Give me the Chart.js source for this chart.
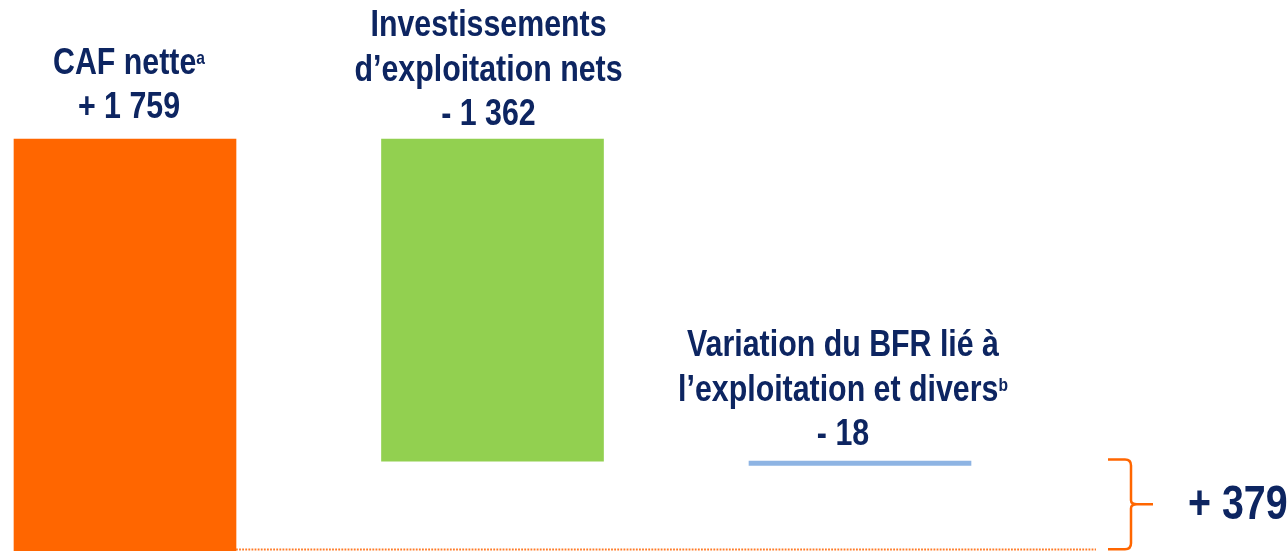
<!DOCTYPE html>
<html>
<head>
<meta charset="utf-8">
<script src="https://cdn.jsdelivr.net/npm/chart.js@4/dist/chart.umd.min.js"></script>
<style>
  html, body { margin: 0; padding: 0; background: #ffffff; }
  #wrap { position: relative; width: 1288px; height: 551px; }
  canvas { display: block; }
</style>
</head>
<body>
<div id="wrap"><canvas id="c" width="1288" height="551"></canvas></div>
<script>
// ---- Data ----
const categories = ['CAF nette', "Investissements d’exploitation nets", 'Variation du BFR lié à l’exploitation et divers'];
const values = [1759, -1362, -18];
const valueLabels = ['+ 1 759', '- 1 362', '- 18'];
const labelLines = [
  [{ t: 'CAF nette', sup: 'a' }],
  [{ t: 'Investissements' }, { t: 'd’exploitation nets' }],
  [{ t: 'Variation du BFR lié à' }, { t: 'l’exploitation et divers', sup: 'b' }]
];
const totalValue = 379;
const totalLabel = '+ 379';

// ---- Styles ----
const barColors = ['#FF6600', '#92D050', '#8EB4E3'];
const textColor = '#0D2561';
const labelDx = [4, -4, -17];
const labelGap = [21, 14, 16];
const lineH = 44.5;

// floating ranges from the running total
let run = 0;
const ranges = values.map(v => { const s = run; run += v; return [Math.min(s, run), Math.max(s, run)]; });

// font detection: use Liberation Sans Narrow if present, otherwise squeeze Liberation Sans
const probe = document.createElement('canvas').getContext('2d');
function w(f) { probe.font = f; return probe.measureText('Investissements d’exploitation 1 759').width; }
const hasNarrow = w('bold 40px "Liberation Sans Narrow", monospace') !== w('bold 40px monospace');
const FAM = hasNarrow ? '"Liberation Sans Narrow"' : '"Liberation Sans", Arial';
const SX = hasNarrow ? 1 : 0.82;

function drawText(ctx, segs, cx, baseline) {
  let total = 0;
  const parts = segs.map(s => {
    ctx.font = 'bold ' + s.size + 'px ' + FAM;
    const wd = ctx.measureText(s.t).width * SX;
    total += wd;
    return { ...s, wd };
  });
  let x = cx - total / 2;
  parts.forEach(p => {
    ctx.save();
    ctx.font = 'bold ' + p.size + 'px ' + FAM;
    ctx.translate(x, baseline - (p.rise || 0));
    ctx.scale(SX, 1);
    ctx.fillText(p.t, 0, 0);
    ctx.restore();
    x += p.wd;
  });
}

const overlay = {
  id: 'overlay',
  afterDatasetsDraw(chart) {
    const ctx = chart.ctx;
    const meta = chart.getDatasetMeta(0);
    const ys = chart.scales.y;
    const area = chart.chartArea;
    ctx.save();
    ctx.fillStyle = textColor;
    ctx.textAlign = 'left';
    ctx.textBaseline = 'alphabetic';
    meta.data.forEach((bar, i) => {
      const top = Math.min(bar.y, bar.base);
      const cx = bar.x + labelDx[i];
      const lines = labelLines[i].map(l => {
        const segs = [{ t: l.t, size: 37 }];
        if (l.sup) segs.push({ t: l.sup, size: 19, rise: 10 });
        return segs;
      });
      lines.push([{ t: valueLabels[i], size: 37 }]);
      const last = top - labelGap[i];
      lines.forEach((segs, k) => {
        drawText(ctx, segs, cx, last - (lines.length - 1 - k) * lineH);
      });
    });

    // dotted baseline
    const first = meta.data[0];
    const yb = area.bottom - 1.5;
    const yT = ys.getPixelForValue(totalValue);
    ctx.strokeStyle = '#FF7A26';
    ctx.lineWidth = 2;
    ctx.setLineDash([1.8, 1.3]);
    ctx.beginPath();
    ctx.moveTo(first.x + first.width / 2, yb);
    ctx.lineTo(1096, yb);
    ctx.stroke();
    ctx.setLineDash([]);

    // curly bracket
    const T = yT - 6, B = area.bottom - 1.7, M = (T + B) / 2;
    const x0 = 1108, xv = 1131, xt = 1153;
    ctx.strokeStyle = '#FF6600';
    ctx.lineWidth = 2.5;
    ctx.lineJoin = 'round';
    ctx.beginPath();
    ctx.moveTo(x0, T);
    ctx.lineTo(xv - 6, T);
    ctx.quadraticCurveTo(xv, T, xv, T + 6);
    ctx.lineTo(xv, M - 4);
    ctx.quadraticCurveTo(xv, M, xv + 6, M);
    ctx.lineTo(xt, M);
    ctx.moveTo(xv + 6, M);
    ctx.quadraticCurveTo(xv, M, xv, M + 4);
    ctx.lineTo(xv, B - 6);
    ctx.quadraticCurveTo(xv, B, xv - 6, B);
    ctx.lineTo(x0, B);
    ctx.stroke();

    // total label
    ctx.fillStyle = textColor;
    ctx.save();
    ctx.font = 'bold 48px ' + FAM;
    ctx.translate(xt + 35, M + 15);
    ctx.scale(SX, 1);
    ctx.fillText(totalLabel, 0, 0);
    ctx.restore();
    ctx.restore();
  }
};

const pxPerCat = 367.5;
const xMin = -125 / pxPerCat;

new Chart(document.getElementById('c'), {
  type: 'bar',
  data: {
    datasets: [{
      label: 'Flux',
      data: ranges.map((r, i) => ({ x: i, y: r })),
      backgroundColor: barColors,
      borderWidth: 0,
      barThickness: 222
    }]
  },
  options: {
    responsive: false,
    devicePixelRatio: 1,
    animation: false,
    layout: { padding: 0 },
    plugins: { legend: { display: false }, tooltip: { enabled: false } },
    scales: {
      x: { type: 'linear', offset: false, min: xMin, max: xMin + 1288 / pxPerCat, display: false },
      y: { min: 17, max: 2347, display: false }
    }
  },
  plugins: [overlay]
});
</script>
</body>
</html>
